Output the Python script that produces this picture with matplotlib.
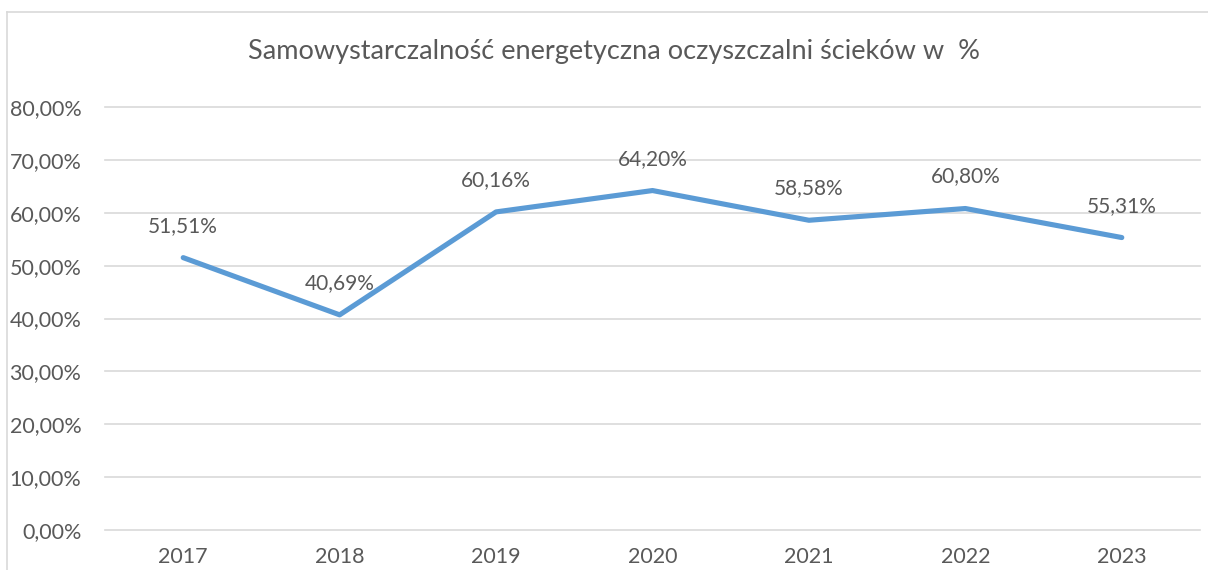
import matplotlib
matplotlib.use("Agg")
import matplotlib.pyplot as plt
from matplotlib.lines import Line2D

years = ["2017", "2018", "2019", "2020", "2021", "2022", "2023"]
values = [51.51, 40.69, 60.16, 64.20, 58.58, 60.80, 55.31]
yticks = [0, 10, 20, 30, 40, 50, 60, 70, 80]
title = "Samowystarczalność energetyczna oczyszczalni ścieków w  %"

plt.rcParams['font.family'] = ['Lato', 'DejaVu Sans']
TXT = "#595959"
GRID = "#D9D9D9"
LINE = "#5B9BD5"

W, H = 1208, 570
fig = plt.figure(figsize=(W/100, H/100), dpi=100)
ax = fig.add_axes([105/W, 1-530/H, (1200-105)/W, (530-107)/H])

x = list(range(len(years)))
ax.plot(x, values, color=LINE, linewidth=3.7, solid_capstyle='round', solid_joinstyle='round', zorder=3)

def fmt(v):
    return f"{v:.2f}".replace(".", ",") + "%"

for xi, v in zip(x, values):
    ax.annotate(fmt(v), (xi, v), xytext=(0, 23), textcoords='offset points',
                ha='center', va='center', fontsize=15, color=TXT)

ax.set_xlim(-0.5, len(years) - 0.5)
ax.set_ylim(0, 80)
ax.set_yticks(yticks)
ax.set_yticklabels([fmt(t) for t in yticks])
ax.set_xticks(x)
ax.set_xticklabels(years)
ax.tick_params(axis='both', length=0, labelsize=15.5, labelcolor=TXT)
ax.tick_params(axis='y', pad=17)
ax.tick_params(axis='x', pad=12)
ax.grid(axis='y', color=GRID, linewidth=1.2)
for gl in ax.get_ygridlines():
    gl.set_clip_on(False)
ax.set_axisbelow(True)
for s in ax.spines.values():
    s.set_visible(False)

fig.text(614/W, 1-52/H, title, ha='center', va='center', fontsize=19.5, color=TXT)

# chart border (cropped on right and bottom)
fig.add_artist(Line2D([7.5/W, 1.01], [1-11.5/H, 1-11.5/H], color=GRID, linewidth=1.2, transform=fig.transFigure))
fig.add_artist(Line2D([7.5/W, 7.5/W], [-0.01, 1-11.5/H], color=GRID, linewidth=1.2, transform=fig.transFigure))

fig.savefig("out.png", dpi=100, facecolor="white")
